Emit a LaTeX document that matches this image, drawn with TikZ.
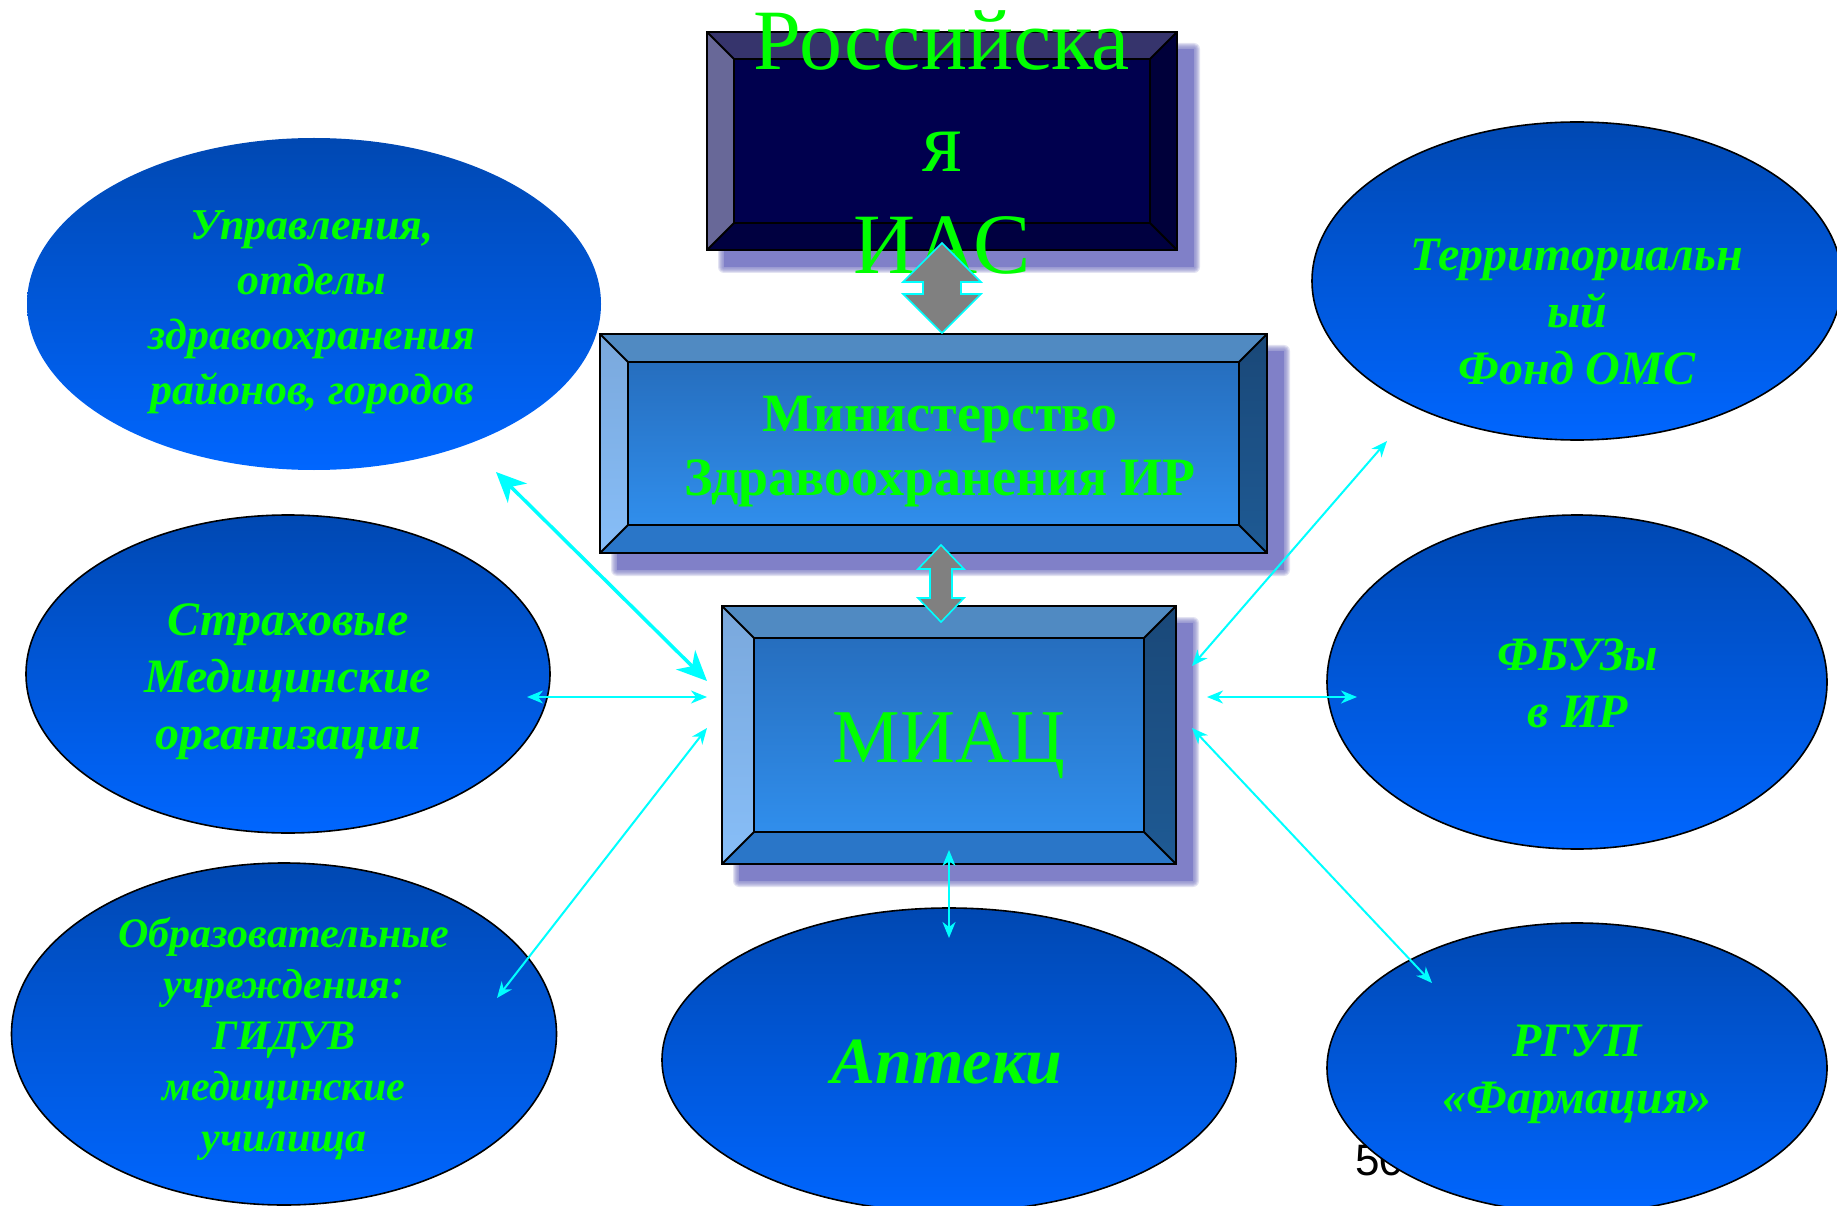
\documentclass[tikz,border=0pt]{standalone}
\usepackage{fontspec}
\setmainfont{Liberation Serif}
\newfontfamily\arialf{Liberation Sans}
\usetikzlibrary{shapes.geometric,arrows.meta,calc}

\definecolor{txtgreen}{RGB}{0,255,0}
\definecolor{lnk}{RGB}{0,255,255}
\definecolor{elltop}{RGB}{0,72,178}
\definecolor{ellbot}{RGB}{0,102,255}
\definecolor{shad}{RGB}{128,128,200}
\definecolor{grayfill}{RGB}{128,128,128}
% top (dark) box
\definecolor{iasT}{RGB}{54,52,108}
\definecolor{iasL}{RGB}{104,104,152}
\definecolor{iasR}{RGB}{0,0,58}
\definecolor{iasB}{RGB}{0,0,64}
\definecolor{iasI1}{RGB}{0,0,78}
\definecolor{iasI2}{RGB}{0,0,104}
% blue boxes
\definecolor{bxT}{RGB}{80,138,194}
\definecolor{bxL1}{RGB}{122,168,220}
\definecolor{bxL2}{RGB}{135,190,248}
\definecolor{bxR1}{RGB}{26,72,120}
\definecolor{bxR2}{RGB}{30,90,148}
\definecolor{bxB}{RGB}{42,118,200}
\definecolor{bxI1}{RGB}{38,110,190}
\definecolor{bxI2}{RGB}{48,142,236}

\newcommand\bevelbox[7]{%
  \path (#1.north west) coordinate (bA) (#1.north east) coordinate (bB)
        (#1.south east) coordinate (bC) (#1.south west) coordinate (bD)
        ($(#1.north west)+(#2,#2)$) coordinate (ba)
        ($(#1.north east)+(-#2,#2)$) coordinate (bb)
        ($(#1.south east)+(-#2,-#2)$) coordinate (bc)
        ($(#1.south west)+(#2,-#2)$) coordinate (bd);
  \fill[#3] (bA)--(bB)--(bb)--(ba)--cycle;
  \shade[#4] (bA)--(ba)--(bd)--(bD)--cycle;
  \shade[#5] (bB)--(bC)--(bc)--(bb)--cycle;
  \fill[#6] (bD)--(bd)--(bc)--(bC)--cycle;
  \shade[#7] (ba) rectangle (bc);
  \draw[black,line width=1.8] (bA) rectangle (bC) (ba) rectangle (bc)
     (bA)--(ba) (bB)--(bb) (bC)--(bc) (bD)--(bd);
}
% soft (blurred-looking) drop shadow
\newcommand\boxshadow[1]{%
  \foreach \k in {6,5,4,3,2,1}{%
    \fill[shad,opacity=0.22,rounded corners=\k pt]
      ($(#1.north west)+({17-\k},{17-\k})$) rectangle ($(#1.south east)+({17+\k},{17+\k})$);
  }
  \fill[shad] ($(#1.north west)+(17,17)$) rectangle ($(#1.south east)+(17,17)$);
}
% cx, ytop, ybot, head half width, shaft half width, head length
\newcommand\grayarrow[6]{%
  \filldraw[fill=grayfill,draw=lnk,line width=1.6,line join=miter]
  (#1,#2) -- ({#1+#4},{#2+#6}) -- ({#1+#5},{#2+#6}) -- ({#1+#5},{#3-#6})
  -- ({#1+#4},{#3-#6}) -- (#1,#3) -- ({#1-#4},{#3-#6}) -- ({#1-#5},{#3-#6})
  -- ({#1-#5},{#2+#6}) -- ({#1-#4},{#2+#6}) -- cycle;
}

\tikzset{
  boxgeom/.style={rectangle,inner sep=0pt,outer sep=0pt},
  oval/.style={ellipse,inner sep=0pt,outer sep=0pt,top color=elltop,bottom color=ellbot,draw=black,line width=1.6},
  ovaltext/.style={text=txtgreen,align=center,inner sep=0pt,font=\bfseries\itshape},
  link/.style={draw=lnk,line width=2,{Stealth[length=16pt,width=13pt,inset=5pt]}-{Stealth[length=16pt,width=13pt,inset=5pt]}},
  biglink/.style={draw=lnk,line width=3.5,{Stealth[length=30pt,width=27pt,inset=9pt]}-{Stealth[length=30pt,width=27pt,inset=9pt]}},
}

\begin{document}
\begin{tikzpicture}[x=1pt,y=-1pt]
\useasboundingbox (0,0) rectangle (1837,1206);
\clip (0,0) rectangle (1837,1206);
\fill[white] (0,0) rectangle (1837,1206);

% ---- box geometry
\node[boxgeom,minimum width=470,minimum height=218] (ias) at (942,141) {};
\node[boxgeom,minimum width=667,minimum height=219] (min) at (933.5,443.5) {};
\node[boxgeom,minimum width=454,minimum height=258] (miac) at (949,735) {};

% ---- shadows
\boxshadow{ias}
\boxshadow{min}
\boxshadow{miac}

% ---- top box
\bevelbox{ias}{27}{iasT}{top color=iasL,bottom color=iasL}{top color=iasR,bottom color=iasR}{iasB}{top color=iasI1,middle color=iasI2,bottom color=iasI1}
\node[anchor=base,text=txtgreen,inner sep=0pt,font=\fontsize{86}{102}\selectfont] (ias1) at (942,70) {Российска};
\node[anchor=base,text=txtgreen,inner sep=0pt,font=\fontsize{86}{102}\selectfont] (ias2) at (942,172) {я};
\node[anchor=base,text=txtgreen,inner sep=0pt,font=\fontsize{86}{102}\selectfont] (ias3) at (942,274) {ИАС};

% ---- ministry box
\bevelbox{min}{28}{bxT}{top color=bxL1,bottom color=bxL2}{top color=bxR1,bottom color=bxR2}{bxB}{top color=bxI1,bottom color=bxI2}
\node[text=txtgreen,align=center,inner sep=0pt,font=\bfseries\fontsize{54}{64}\selectfont] (mintext) at (940,452) {Министерство\\Здравоохранения ИР};

% ---- MIAC box
\bevelbox{miac}{32}{bxT}{top color=bxL1,bottom color=bxL2}{top color=bxR1,bottom color=bxR2}{bxB}{top color=bxI1,bottom color=bxI2}
\node[anchor=base,text=txtgreen,inner sep=0pt,font=\fontsize{76}{90}\selectfont] (miactext) at (949,762) {МИАЦ};

% ---- gray block arrows
\grayarrow{942}{243}{333}{39}{19}{39}
\grayarrow{941}{545}{622}{23}{11}{24}

% ---- ellipses
\node[oval,draw=none,minimum width=574,minimum height=332] (ul) at (314,304) {};
\node[ovaltext,font=\bfseries\itshape\fontsize{44}{55}\selectfont] (ultext) at (312,312) {Управления,\\отделы\\здравоохранения\\районов, городов};

\node[oval,minimum width=524,minimum height=318] (ml) at (288,674) {};
\node[ovaltext,font=\bfseries\itshape\fontsize{48}{57}\selectfont] (mltext) at (288,682) {Страховые\\Медицинские\\организации};

\node[oval,minimum width=545,minimum height=342] (ll) at (284,1034) {};
\node[ovaltext,font=\bfseries\itshape\fontsize{42}{51}\selectfont] (lltext) at (284,1039) {Образовательные\\учреждения:\\ГИДУВ\\медицинские\\училища};

\node[oval,minimum width=574,minimum height=304] (bc) at (949,1060) {};
\node[ovaltext,anchor=base,font=\bfseries\itshape\fontsize{66}{78}\selectfont] (bctext) at (947,1083) {Аптеки};

\node[oval,minimum width=530,minimum height=318] (ur) at (1577,281) {};
\node[ovaltext,font=\bfseries\itshape\fontsize{48}{57}\selectfont] (urtext) at (1577,312) {Территориальн\\ый\\Фонд ОМС};

\node[oval,minimum width=500,minimum height=334] (mr) at (1577,682) {};
\node[ovaltext,font=\bfseries\itshape\fontsize{48}{57}\selectfont] (mrtext) at (1578,683) {ФБУЗы\\в ИР};

\node[anchor=base west,inner sep=0pt,font=\arialf\fontsize{44}{50}\selectfont] (pnum) at (1355,1175) {50};

\node[oval,minimum width=500,minimum height=290] (lr) at (1577,1068) {};
\node[ovaltext,font=\bfseries\itshape\fontsize{48}{57}\selectfont] (lrtext) at (1577,1074) {РГУП\\«Фармация»};

% ---- connectors
\coordinate (c1a) at (496,472);  \coordinate (c1b) at (707,681);
\coordinate (c2a) at (527,697);  \coordinate (c2b) at (707,697);
\coordinate (c3a) at (497,998);  \coordinate (c3b) at (707,728);
\coordinate (c4a) at (1387,441); \coordinate (c4b) at (1192,666);
\coordinate (c5a) at (1357,697); \coordinate (c5b) at (1207,697);
\coordinate (c6a) at (1432,983); \coordinate (c6b) at (1192,728);
\coordinate (c7a) at (949,850);  \coordinate (c7b) at (949,938);

\draw[biglink] (c1a) -- (c1b);
\draw[link] (c2a) -- (c2b);
\draw[link] (c3a) -- (c3b);
\draw[link] (c4a) -- (c4b);
\draw[link] (c5a) -- (c5b);
\draw[link] (c6a) -- (c6b);
\draw[link] (c7a) -- (c7b);
\end{tikzpicture}
\end{document}
